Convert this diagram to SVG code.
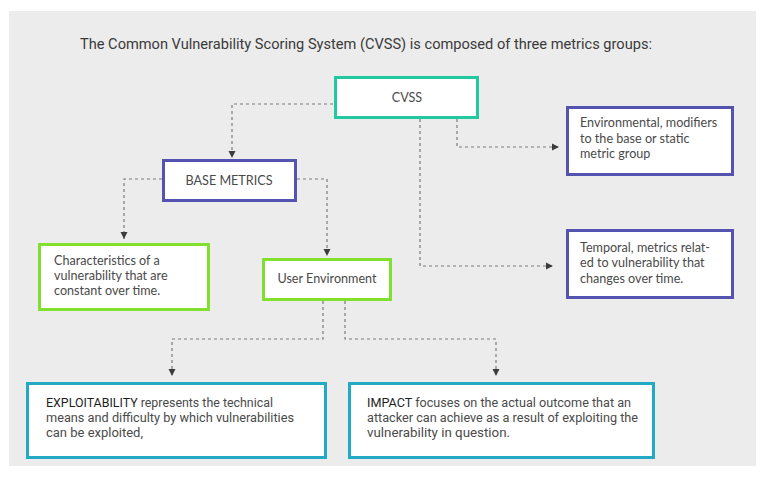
<svg xmlns="http://www.w3.org/2000/svg" width="768" height="482" viewBox="0 0 768 482">
  <style>
    .bg { fill: #ececec; }
    .box { fill: #ffffff; stroke-width: 3; }
    .teal { stroke: #22c9a0; }
    .purple { stroke: #5553b0; }
    .green { stroke: #7fe02e; }
    .blue { stroke: #22a9c3; }
    .t { font-family: Lato, "Open Sans", sans-serif; font-size: 12.6px; fill: #4a4a4a; }
    .title { font-family: Roboto, "Liberation Sans", sans-serif; font-size: 15px; fill: #3a3a3a; }
    .c { font-family: Roboto, "Liberation Sans", sans-serif; font-size: 12.5px; fill: #4a4a4a; }
    .k { fill: #1e1e1e; }
    .conn { fill: none; stroke: #7a7a7a; stroke-width: 1.2; stroke-dasharray: 3 3; }
  </style>
  <defs>
    <marker id="arr" viewBox="0 0 10 10" refX="10" refY="5" markerWidth="7" markerHeight="10" markerUnits="userSpaceOnUse" orient="auto">
      <path d="M0,0 L10,5 L0,10 Z" fill="#3c3c3c"/>
    </marker>
  </defs>
  <rect class="bg" x="9" y="11" width="747" height="455"/>
  <text class="title" x="80" y="49" textLength="572" lengthAdjust="spacingAndGlyphs">The Common Vulnerability Scoring System (CVSS) is composed of three metrics groups:</text>

  <g id="connectors">
    <path class="conn" d="M333,104 H232 V158" marker-end="url(#arr)"/>
    <path class="conn" d="M420,119 V266 H553" marker-end="url(#arr)"/>
    <path class="conn" d="M457,119 V147 H559" marker-end="url(#arr)"/>
    <path class="conn" d="M162,179 H124 V239" marker-end="url(#arr)"/>
    <path class="conn" d="M297,179 H327 V256" marker-end="url(#arr)"/>
    <path class="conn" d="M323,301 V339 H172 V376" marker-end="url(#arr)"/>
    <path class="conn" d="M345,301 V339 H496 V376" marker-end="url(#arr)"/>
  </g>

  <g id="cvss">
    <rect class="box teal" x="335.5" y="77.5" width="142" height="40"/>
    <text class="t" x="407" y="102" text-anchor="middle">CVSS</text>
  </g>
  <g id="base-metrics">
    <rect class="box purple" x="163.5" y="160.5" width="132" height="40"/>
    <text class="t" x="229" y="185" text-anchor="middle">BASE METRICS</text>
  </g>
  <g id="environmental">
    <rect class="box purple" x="567.5" y="107.5" width="165" height="67"/>
    <text class="t" x="580" y="127">Environmental, modifiers</text>
    <text class="t" x="580" y="143">to the base or static</text>
    <text class="t" x="580" y="158">metric group</text>
  </g>
  <g id="temporal">
    <rect class="box purple" x="567.5" y="230.5" width="165" height="67"/>
    <text class="t" x="580" y="252">Temporal, metrics relat-</text>
    <text class="t" x="580" y="267">ed to vulnerability that</text>
    <text class="t" x="580" y="283">changes over time.</text>
  </g>
  <g id="characteristics">
    <rect class="box green" x="39.5" y="244.5" width="169" height="65"/>
    <text class="t" x="54" y="265">Characteristics of a</text>
    <text class="t" x="54" y="280">vulnerability that are</text>
    <text class="t" x="54" y="295">constant over time.</text>
  </g>
  <g id="user-environment">
    <rect class="box green" x="263.5" y="259.5" width="127" height="40"/>
    <text class="t" x="327" y="283" text-anchor="middle">User Environment</text>
  </g>
  <g id="exploitability">
    <rect class="box blue" x="27.5" y="383.5" width="298" height="74"/>
    <text class="c" x="46" y="407" textLength="227" lengthAdjust="spacingAndGlyphs"><tspan class="k">EXPLOITABILITY</tspan> represents the technical</text>
    <text class="c" x="46" y="422" textLength="248" lengthAdjust="spacingAndGlyphs">means and difficulty by which vulnerabilities</text>
    <text class="c" x="46" y="437" textLength="97" lengthAdjust="spacingAndGlyphs">can be exploited,</text>
  </g>
  <g id="impact">
    <rect class="box blue" x="349.5" y="383.5" width="304" height="74"/>
    <text class="c" x="367" y="407" textLength="264" lengthAdjust="spacingAndGlyphs"><tspan class="k">IMPACT</tspan> focuses on the actual outcome that an</text>
    <text class="c" x="367" y="422" textLength="271" lengthAdjust="spacingAndGlyphs">attacker can achieve as a result of exploiting the</text>
    <text class="c" x="367" y="437" textLength="143" lengthAdjust="spacingAndGlyphs">vulnerability in question.</text>
  </g>
</svg>
